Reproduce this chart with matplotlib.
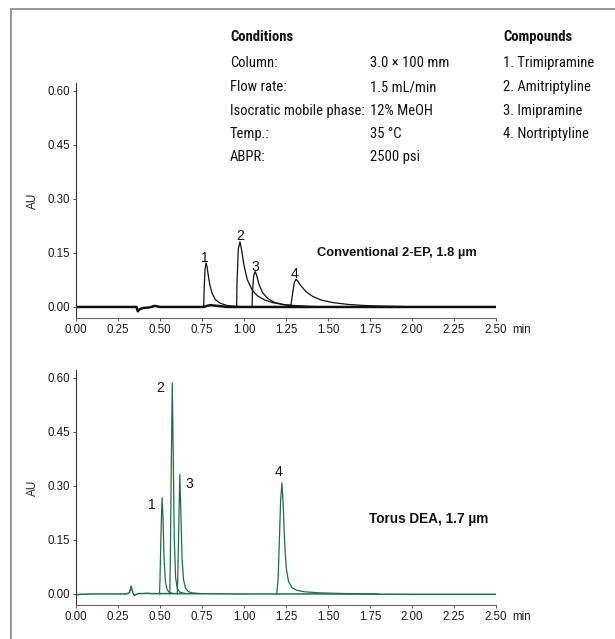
import matplotlib
matplotlib.use("Agg")
import matplotlib.pyplot as plt
import matplotlib.font_manager as fm
from matplotlib.lines import Line2D

# ---------------- data ----------------
peak_labels = ["1", "2", "3", "4"]

# Conventional 2-EP (top), time [min] / absorbance [AU]
conv_base_t = [0.00, 0.30, 0.36, 0.368, 0.372, 0.38, 0.40, 0.44, 0.47, 0.50, 0.60, 0.76,
               0.78, 0.80, 0.84, 0.90, 1.20, 1.60, 2.00, 2.50]
conv_base_y = [0.000, 0.000, 0.000, -0.012, -0.010, -0.006, -0.003, -0.001, 0.003, 0.000,
               0.000, 0.000, 0.003, 0.005, 0.003, 0.000, 0.000, 0.000, 0.000, 0.000]
conv_p1_t = [0.760, 0.762, 0.768, 0.774, 0.780, 0.788, 0.798, 0.812, 0.830, 0.860, 0.900, 0.950, 1.000]
conv_p1_y = [0.000, 0.040, 0.105, 0.122, 0.112, 0.085, 0.058, 0.036, 0.020, 0.010, 0.004, 0.0015, 0.000]
conv_p2_t = [0.956, 0.958, 0.966, 0.976, 0.985, 1.000, 1.020, 1.050, 1.080, 1.120, 1.170, 1.230, 1.300, 1.400, 1.500]
conv_p2_y = [0.000, 0.060, 0.160, 0.181, 0.160, 0.115, 0.075, 0.046, 0.031, 0.020, 0.012, 0.007, 0.004, 0.0015, 0.000]
conv_p3_t = [1.048, 1.050, 1.058, 1.067, 1.075, 1.090, 1.110, 1.140, 1.180, 1.240, 1.320, 1.420]
conv_p3_y = [0.000, 0.040, 0.088, 0.098, 0.088, 0.062, 0.040, 0.024, 0.013, 0.006, 0.002, 0.000]
conv_p4_t = [1.278, 1.290, 1.300, 1.310, 1.320, 1.340, 1.370, 1.410, 1.460, 1.530, 1.620, 1.720, 1.850, 2.000, 2.200]
conv_p4_y = [0.000, 0.040, 0.068, 0.077, 0.072, 0.058, 0.042, 0.029, 0.019, 0.012, 0.007, 0.004, 0.002, 0.0008, 0.000]
conv_lab_t = [0.768, 0.976, 1.070, 1.300]
conv_lab_y = [0.135, 0.197, 0.110, 0.092]

# Torus DEA (bottom)
torus_base_t = [0.00, 0.02, 0.10, 0.30, 0.318, 0.324, 0.328, 0.333, 0.340, 0.347, 0.355, 0.37,
                0.40, 0.42, 0.45, 0.49, 0.60, 1.00, 1.50, 2.00, 2.50]
torus_base_y = [-0.003, -0.001, 0.000, 0.000, 0.004, 0.014, 0.021, 0.012, 0.002, -0.004, -0.002, 0.001,
                0.001, 0.002, 0.001, 0.001, 0.001, 0.000, 0.000, -0.001, -0.001]
torus_p1_t = [0.497, 0.500, 0.505, 0.512, 0.518, 0.524, 0.532, 0.542, 0.556, 0.580]
torus_p1_y = [0.000, 0.040, 0.150, 0.267, 0.210, 0.100, 0.035, 0.012, 0.004, 0.001]
torus_p2_t = [0.558, 0.561, 0.566, 0.573, 0.579, 0.585, 0.593, 0.603, 0.618, 0.650]
torus_p2_y = [0.000, 0.080, 0.300, 0.585, 0.380, 0.150, 0.045, 0.015, 0.005, 0.001]
torus_p3_t = [0.603, 0.606, 0.611, 0.618, 0.624, 0.631, 0.640, 0.652, 0.668, 0.690, 0.740]
torus_p3_y = [0.000, 0.050, 0.170, 0.331, 0.230, 0.100, 0.040, 0.016, 0.007, 0.003, 0.001]
torus_p4_t = [1.195, 1.203, 1.210, 1.218, 1.226, 1.233, 1.242, 1.252, 1.265, 1.285, 1.315, 1.360, 1.450, 1.600, 1.800]
torus_p4_y = [0.000, 0.040, 0.140, 0.260, 0.308, 0.250, 0.140, 0.070, 0.035, 0.018, 0.010, 0.006, 0.003, 0.0012, 0.000]
torus_lab_t = [0.452, 0.503, 0.672, 1.203]
torus_lab_y = [0.248, 0.572, 0.306, 0.339]

x_ticks = [0.00, 0.25, 0.50, 0.75, 1.00, 1.25, 1.50, 1.75, 2.00, 2.25, 2.50]
y_ticks = [0.00, 0.15, 0.30, 0.45, 0.60]

cond_keys = ["Column:", "Flow rate:", "Isocratic mobile phase:", "Temp.:", "ABPR:"]
cond_vals = ["3.0 \u00d7 100 mm", "1.5 mL/min", "12% MeOH", "35 \u00b0C", "2500 psi"]
compounds = ["1. Trimipramine", "2. Amitriptyline", "3. Imipramine", "4. Nortriptyline"]

# ---------------- fonts ----------------
avail = {f.name for f in fm.fontManager.ttflist}
cond_font = None
cond_stretch = "normal"
for n in ["Roboto Condensed", "Liberation Sans Narrow", "Noto Sans Condensed",
          "Open Sans Condensed", "DejaVu Sans Condensed"]:
    if n in avail:
        cond_font = n
        break
if cond_font is None:
    nc = [f for f in fm.fontManager.ttflist
          if f.name == "Noto Sans" and str(f.stretch) in ("condensed", "semi-condensed", "75", "87")]
    if nc:
        cond_font = "Noto Sans"
        cond_stretch = "condensed"
    else:
        cond_font = "Roboto"
arial = ["Liberation Sans", "DejaVu Sans"]
plt.rcParams["font.family"] = arial

W, H = 615, 639
fig = plt.figure(figsize=(W / 100, H / 100), dpi=100)
fig.patch.set_facecolor("white")

# outer frame (left and top edges)
fig.add_artist(Line2D([10.5 / W, 10.5 / W], [0, 1 - 8.5 / H], transform=fig.transFigure,
                      color="#8f8f8f", lw=1.3))
fig.add_artist(Line2D([10.5 / W, 1], [1 - 8.5 / H, 1 - 8.5 / H], transform=fig.transFigure,
                      color="#8f8f8f", lw=1.3))

ax_l, ax_w = 76 / W, 420 / W
ax_h = 235 / H
ax1 = fig.add_axes([ax_l, 1 - 318 / H, ax_w, ax_h])
ax2 = fig.add_axes([ax_l, 1 - 605 / H, ax_w, ax_h])

def style(ax):
    ax.set_xlim(0, 2.5)
    ax.set_ylim(-0.0306, 0.621)
    ax.set_xticks(x_ticks)
    ax.set_xticklabels([f"{v:.2f}" for v in x_ticks])
    ax.set_yticks(y_ticks)
    ax.set_yticklabels([f"{v:.2f}" for v in y_ticks])
    for s in ["top", "right"]:
        ax.spines[s].set_visible(False)
    ax.spines["left"].set_color("#333333")
    ax.spines["bottom"].set_color("#666666")
    ax.spines["left"].set_linewidth(0.8)
    ax.spines["bottom"].set_linewidth(0.8)
    ax.tick_params(axis="both", direction="out", length=2.2, width=0.7, colors="#555555",
                   labelcolor="#1a1a1a", labelsize=8.3, pad=2)
    ax.set_ylabel("AU", fontsize=8.5, color="#222222", labelpad=6)
    ax.annotate("min", xy=(1, 0), xycoords="axes fraction", xytext=(11.5, -4.2),
                textcoords="offset points", ha="left", va="top", fontsize=8.3, color="#1a1a1a")
    ax.set_facecolor("none")

style(ax1)
style(ax2)

black = "#111111"
ax1.plot(conv_base_t, conv_base_y, color=black, lw=1.8, solid_joinstyle="round")
for t, y in [(conv_p1_t, conv_p1_y), (conv_p2_t, conv_p2_y), (conv_p3_t, conv_p3_y), (conv_p4_t, conv_p4_y)]:
    ax1.plot(t, y, color=black, lw=0.9)
for lab, t, y in zip(peak_labels, conv_lab_t, conv_lab_y):
    ax1.text(t, y, lab, ha="center", va="center", fontsize=10, color="#111111")
ax1.text(1.91, 0.151, "Conventional 2-EP, 1.8 \u00b5m", ha="center", va="center",
         fontsize=9.3, fontweight="bold", color="#111111")

green = "#1f6e48"
ax2.plot(torus_base_t, torus_base_y, color=green, lw=1.1)
for t, y in [(torus_p1_t, torus_p1_y), (torus_p2_t, torus_p2_y), (torus_p3_t, torus_p3_y), (torus_p4_t, torus_p4_y)]:
    ax2.plot(t, y, color=green, lw=0.9)
for lab, t, y in zip(peak_labels, torus_lab_t, torus_lab_y):
    ax2.text(t, y, lab, ha="center", va="center", fontsize=10, color="#111111")
ax2.text(2.10, 0.207, "Torus DEA, 1.7 \u00b5m", ha="center", va="center",
         fontsize=9.8, fontweight="bold", color="#111111")

# conditions block
fs = 10.5 if cond_font != "Roboto" else 9
ckw = dict(family=[cond_font, "DejaVu Sans"], fontstretch=cond_stretch, color="#111111",
           fontsize=fs, va="center", ha="left", transform=fig.transFigure)
fig.text(230 / W, 1 - 37 / H, "Conditions", fontweight="bold", **ckw)
fig.text(503 / W, 1 - 37 / H, "Compounds", fontweight="bold", **ckw)
row_y = [63, 87, 111, 134, 157]
for k, v, yy in zip(cond_keys, cond_vals, row_y):
    fig.text(230 / W, 1 - yy / H, k, **ckw)
    fig.text(370 / W, 1 - yy / H, v, **ckw)
for c, yy in zip(compounds, row_y):
    fig.text(503 / W, 1 - yy / H, c, **ckw)

fig.savefig("out.png", dpi=100, facecolor="white")
